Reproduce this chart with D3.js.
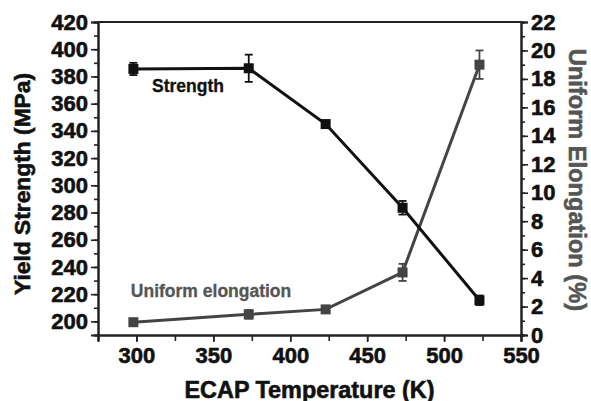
<!DOCTYPE html>
<html>
<head>
<meta charset="utf-8">
<script src="https://cdn.jsdelivr.net/npm/d3@7"></script>
<style>
  body { margin: 0; background: #fff; }
  svg text { font-family: "Liberation Sans", Arial, Helvetica, sans-serif; font-weight: 700; }
</style>
</head>
<body>
<svg id="chart" width="591" height="401"></svg>
<script>
// ECAP temperature (K)
const temps = [298, 373, 423, 473, 523]
// yield strength (MPa) and its error
const strength = [385.5, 386, 345, 283.5, 215.5]
const strengthErr = [4.5, 10, 1, 5, 3.5]
// uniform elongation (%) and its error
const elong = [0.9, 1.45, 1.8, 4.4, 19]
const elongErr = [0.2, 0.3, 0.2, 0.6, 1]

const svg = d3.select("#chart")
const m = {left: 98, right: 70, top: 22, bottom: 66}
const width = 591, height = 401
const iw = width - m.left - m.right
const ih = height - m.top - m.bottom

const x = d3.scaleLinear().domain([275, 550]).range([0, iw])
const yL = d3.scaleLinear().domain([190, 420]).range([ih, 0])
const yR = d3.scaleLinear().domain([0, 22]).range([ih, 0])

const g = svg.append("g").attr("transform", `translate(${m.left},${m.top})`)

const black = "#111", gray = "#444", titleGray = "#555"

// minor ticks first
g.append("g").attr("transform", `translate(0,${ih})`)
    .call(d3.axisBottom(x).tickValues(d3.range(275, 551, 25)).tickSize(6).tickFormat(""))
g.append("g")
    .call(d3.axisLeft(yL).tickValues(d3.range(190, 421, 10)).tickSize(4).tickFormat(""))
g.append("g").attr("transform", `translate(${iw},0)`)
    .call(d3.axisRight(yR).tickValues(d3.range(0, 23, 1)).tickSize(4).tickFormat(""))

// major ticks
g.append("g").attr("transform", `translate(0,${ih})`)
    .call(d3.axisBottom(x).tickValues(d3.range(300, 551, 50)).tickSize(7).tickPadding(5))
g.append("g")
    .call(d3.axisLeft(yL).tickValues(d3.range(200, 421, 20)).tickSize(7).tickPadding(3))
g.append("g").attr("transform", `translate(${iw},0)`)
    .call(d3.axisRight(yR).tickValues(d3.range(0, 23, 2)).tickSize(7).tickPadding(3))

g.selectAll(".domain").attr("stroke", "#222").attr("stroke-width", 2)
g.selectAll(".tick line").attr("stroke", "#222").attr("stroke-width", 1.6)
g.selectAll(".tick text").attr("fill", "#111").attr("stroke", "#111").attr("stroke-width", 0.6)
    .style("font-size", "22px").style("font-weight", "700")

// top frame line
g.append("line").attr("x1", 0).attr("x2", iw).attr("y1", 0).attr("y2", 0)
    .attr("stroke", "#222").attr("stroke-width", 2)

function series(vals, errs, scale, color) {
    const pts = temps.map((t, i) => ({t: t, v: vals[i], e: errs[i]}))
    g.append("path").datum(pts)
        .attr("fill", "none").attr("stroke", color).attr("stroke-width", 3)
        .attr("d", d3.line().x(d => x(d.t)).y(d => scale(d.v)))
    const eb = g.append("g").selectAll("g").data(pts).enter().append("g")
        .attr("stroke", color).attr("stroke-width", 1.8)
    eb.append("line").attr("x1", d => x(d.t)).attr("x2", d => x(d.t))
        .attr("y1", d => scale(d.v - d.e)).attr("y2", d => scale(d.v + d.e))
    eb.append("line").attr("x1", d => x(d.t) - 4).attr("x2", d => x(d.t) + 4)
        .attr("y1", d => scale(d.v - d.e)).attr("y2", d => scale(d.v - d.e))
    eb.append("line").attr("x1", d => x(d.t) - 4).attr("x2", d => x(d.t) + 4)
        .attr("y1", d => scale(d.v + d.e)).attr("y2", d => scale(d.v + d.e))
    g.append("g").selectAll("rect").data(pts).enter().append("rect")
        .attr("x", d => x(d.t) - 5).attr("y", d => scale(d.v) - 5)
        .attr("width", 10).attr("height", 10).attr("fill", color)
}

series(elong, elongErr, yR, gray)
series(strength, strengthErr, yL, black)

function label(sel, color, sw) {
    return sel.attr("fill", color).attr("stroke", color).attr("stroke-width", sw)
}

// series labels
label(g.append("text").attr("x", x(333.5)).attr("y", yL(368.5))
    .attr("text-anchor", "middle").style("font-size", "17.5px"), black, 0.3)
    .text("Strength")
label(g.append("text").attr("x", x(348.5)).attr("y", yL(218))
    .attr("text-anchor", "middle").style("font-size", "17.5px"), titleGray, 0.3)
    .text("Uniform elongation")

// axis titles
label(svg.append("text").attr("x", m.left + x(412.5)).attr("y", 398)
    .attr("text-anchor", "middle").style("font-size", "23.4px"), black, 0.6)
    .text("ECAP Temperature (K)")
label(svg.append("text").attr("transform", `translate(30,${m.top + yL(301)}) rotate(-90)`)
    .attr("text-anchor", "middle").style("font-size", "22.8px"), black, 0.6)
    .text("Yield Strength (MPa)")
label(svg.append("text").attr("transform", `translate(569,${m.top + yR(10.9)}) rotate(90)`)
    .attr("text-anchor", "middle").style("font-size", "23.6px"), titleGray, 0.6)
    .text("Uniform Elongation (%)")
</script>
</body>
</html>
